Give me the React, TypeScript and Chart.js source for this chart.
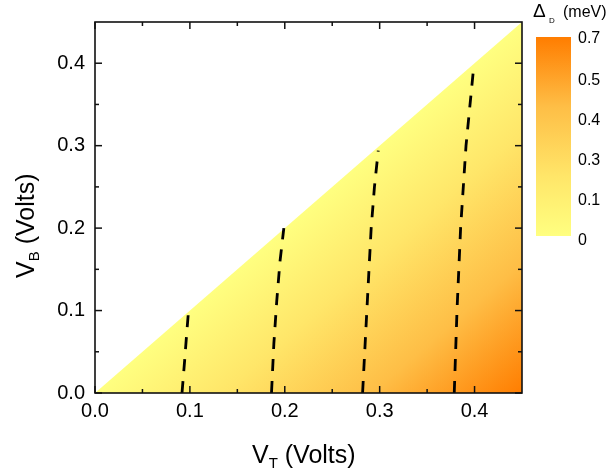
import React, { useEffect, useRef } from "react";
import { Chart, registerables } from "chart.js";

Chart.register(...registerables);

// ---- data ----
const X_MIN = 0;
const X_MAX = 0.45;
const Y_MIN = 0;
const Y_MAX = 0.45;
const majorTicks = [0, 0.1, 0.2, 0.3, 0.4];
const minorTicks = [0.05, 0.15, 0.25, 0.35, 0.45];

// region where the gap is defined: V_B <= V_T
const boundaryVT = [0, 0.45];
const boundaryVB = [0, 0.45];

// dashed contour lines (V_T, V_B)
const contour1VT = [0.0917, 0.0945, 0.0965, 0.0985];
const contour1VB = [0, 0.04, 0.07, 0.099];
const contour2VT = [0.186, 0.1885, 0.1915, 0.195, 0.199];
const contour2VB = [0, 0.06, 0.111, 0.16, 0.2];
const contour3VT = [0.282, 0.2865, 0.291, 0.2945, 0.2985];
const contour3VB = [0, 0.1, 0.199, 0.25, 0.294];
const contour4VT = [0.3786, 0.3815, 0.3853, 0.391, 0.3986];
const contour4VB = [0, 0.1, 0.2, 0.3, 0.3896];

const colorbarLabels = ["0.7", "0.5", "0.4", "0.3", "0.1", "0"];

// ---- styles ----
const FONT = "'Liberation Sans', Arial, Helvetica, sans-serif";
const COLOR_STOPS: [number, string][] = [
  [0, "rgb(255,255,128)"],
  [0.3, "rgb(255,230,105)"],
  [0.65, "rgb(254,190,70)"],
  [1, "rgb(255,125,0)"],
];

const toPts = (xs: number[], ys: number[]) => xs.map((x, i) => ({ x, y: ys[i] }));

function fillGradient(ctx: any) {
  const chart = ctx.chart;
  const { chartArea, scales } = chart;
  if (!chartArea || !scales.x || !scales.y) return "rgba(255,220,100,1)";
  const xs = scales.x;
  const ys = scales.y;
  const ox = xs.getPixelForValue(X_MIN);
  const oy = ys.getPixelForValue(Y_MIN);
  const dx = xs.getPixelForValue(X_MAX) - ox;
  const dy = ys.getPixelForValue(Y_MAX) - oy;
  const len = Math.sqrt(dx * dx + dy * dy);
  const nx = -dy / len;
  const ny = dx / len;
  const proj = dx * nx;
  const g = chart.ctx.createLinearGradient(ox, oy, ox + nx * proj, oy + ny * proj);
  COLOR_STOPS.forEach(([p, c]) => g.addColorStop(p, c));
  return g;
}

const decorPlugin = {
  id: "decor",
  afterDraw(chart: any) {
    const { ctx, chartArea: a, scales } = chart;
    const xs = scales.x;
    const ys = scales.y;
    ctx.save();
    ctx.setLineDash([]);
    ctx.globalCompositeOperation = "source-over";
    ctx.globalAlpha = 1;
    ctx.strokeStyle = "#111";
    ctx.lineWidth = 1.6;
    ctx.strokeRect(a.left, a.top, a.right - a.left, a.bottom - a.top);
    const MAJ = 7;
    const MIN = 4;
    const seg = (x1: number, y1: number, x2: number, y2: number) => {
      ctx.beginPath();
      ctx.moveTo(x1, y1);
      ctx.lineTo(x2, y2);
      ctx.stroke();
    };
    const tickX = (v: number, L: number) => {
      const p = xs.getPixelForValue(v);
      seg(p, a.bottom, p, a.bottom - L);
      seg(p, a.top, p, a.top + L);
    };
    const tickY = (v: number, L: number) => {
      const p = ys.getPixelForValue(v);
      seg(a.left, p, a.left + L, p);
      seg(a.right, p, a.right - L, p);
    };
    ctx.lineWidth = 1.5;
    majorTicks.forEach((v) => { tickX(v, MAJ); tickY(v, MAJ); });
    minorTicks.forEach((v) => { if (v < X_MAX) tickX(v, MIN); if (v < Y_MAX) tickY(v, MIN); });

    ctx.fillStyle = "#000";
    ctx.textBaseline = "alphabetic";
    ctx.textAlign = "left";

    // x axis title
    const big = `25px ${FONT}`;
    const sub = `15px ${FONT}`;
    ctx.font = big;
    const wV = ctx.measureText("V").width;
    ctx.font = sub;
    const wT = ctx.measureText("T").width;
    const sx = 252;
    const baseX = 463;
    ctx.font = big;
    ctx.fillText("V", sx, baseX);
    ctx.font = sub;
    ctx.fillText("T", sx + wV, baseX + 5);
    ctx.font = big;
    ctx.fillText(" (Volts)", sx + wV + wT, baseX);

    // y axis title (rotated)
    ctx.save();
    ctx.translate(33.5, 278);
    ctx.rotate(-Math.PI / 2);
    ctx.font = big;
    ctx.fillText("V", 0, 0);
    ctx.font = sub;
    const wB = ctx.measureText("B").width;
    ctx.fillText("B", wV, 5);
    ctx.font = big;
    ctx.fillText(" (Volts)", wV + wB, 0);
    ctx.restore();

    // colour bar
    const cbL = 536, cbR = 571, cbT = 37, cbB = 236;
    const g = ctx.createLinearGradient(0, cbB, 0, cbT);
    COLOR_STOPS.forEach(([p, c]) => g.addColorStop(p, c));
    ctx.fillStyle = g;
    ctx.fillRect(cbL, cbT, cbR - cbL, cbB - cbT);

    ctx.fillStyle = "#000";
    ctx.font = `16px ${FONT}`;
    ctx.textBaseline = "middle";
    const labelYs = [38.5, 80.5, 120.5, 160.5, 200.5, 240.5];
    colorbarLabels.forEach((t, i) => ctx.fillText(t, 578, labelYs[i]));

    // colour bar title
    ctx.textBaseline = "alphabetic";
    ctx.font = `19px ${FONT}`;
    ctx.fillText("\u0394", 533, 17);
    ctx.font = `8px ${FONT}`;
    ctx.fillText("D", 549, 23);
    ctx.font = `16px ${FONT}`;
    ctx.fillText("(meV)", 563, 16.5);
    ctx.restore();
  },
};

const dashed = (xs: number[], ys: number[]) => ({
  data: toPts(xs, ys),
  showLine: true,
  borderColor: "#000",
  borderWidth: 2.8,
  borderDash: [12, 10],
  pointRadius: 0,
  fill: false,
  tension: 0,
  order: 0,
});

export default function App() {
  const ref = useRef<HTMLCanvasElement | null>(null);
  useEffect(() => {
    if (!ref.current) return;
    const chart = new Chart(ref.current, {
      type: "scatter",
      data: {
        datasets: [
          dashed(contour1VT, contour1VB),
          dashed(contour2VT, contour2VB),
          dashed(contour3VT, contour3VB),
          dashed(contour4VT, contour4VB),
          {
            data: toPts(boundaryVT, boundaryVB),
            showLine: true,
            borderWidth: 0,
            borderColor: "rgba(0,0,0,0)",
            pointRadius: 0,
            fill: "origin",
            backgroundColor: fillGradient,
            order: 5,
          } as any,
        ],
      },
      options: {
        animation: false,
        responsive: true,
        maintainAspectRatio: false,
        layout: { padding: { left: 0, top: 17, right: 90, bottom: 0 } },
        plugins: {
          legend: { display: false },
          tooltip: { enabled: false },
          filler: { drawTime: "beforeDatasetsDraw" },
        },
        scales: {
          x: {
            type: "linear",
            min: X_MIN,
            max: X_MAX,
            grid: { display: false, drawTicks: false },
            border: { display: false },
            afterBuildTicks: (s: any) => { s.ticks = majorTicks.map((v) => ({ value: v })); },
            afterFit: (s: any) => { s.height = 83; },
            ticks: {
              padding: 6,
              color: "#000",
              font: { family: FONT, size: 20 },
              callback: (v: any) => Number(v).toFixed(1),
              maxRotation: 0,
            },
          },
          y: {
            type: "linear",
            min: Y_MIN,
            max: Y_MAX,
            grid: { display: false, drawTicks: false },
            border: { display: false },
            afterBuildTicks: (s: any) => { s.ticks = majorTicks.map((v) => ({ value: v })); },
            afterFit: (s: any) => { s.width = 95; },
            ticks: {
              padding: 10,
              color: "#000",
              font: { family: FONT, size: 20 },
              callback: (v: any) => Number(v).toFixed(1),
            },
          },
        },
      } as any,
      plugins: [decorPlugin],
    });
    return () => chart.destroy();
  }, []);
  return (
    <div style={{ position: "absolute", left: 0, top: 0, width: 612, height: 476, background: "#fff" }}>
      <canvas ref={ref} />
    </div>
  );
}
